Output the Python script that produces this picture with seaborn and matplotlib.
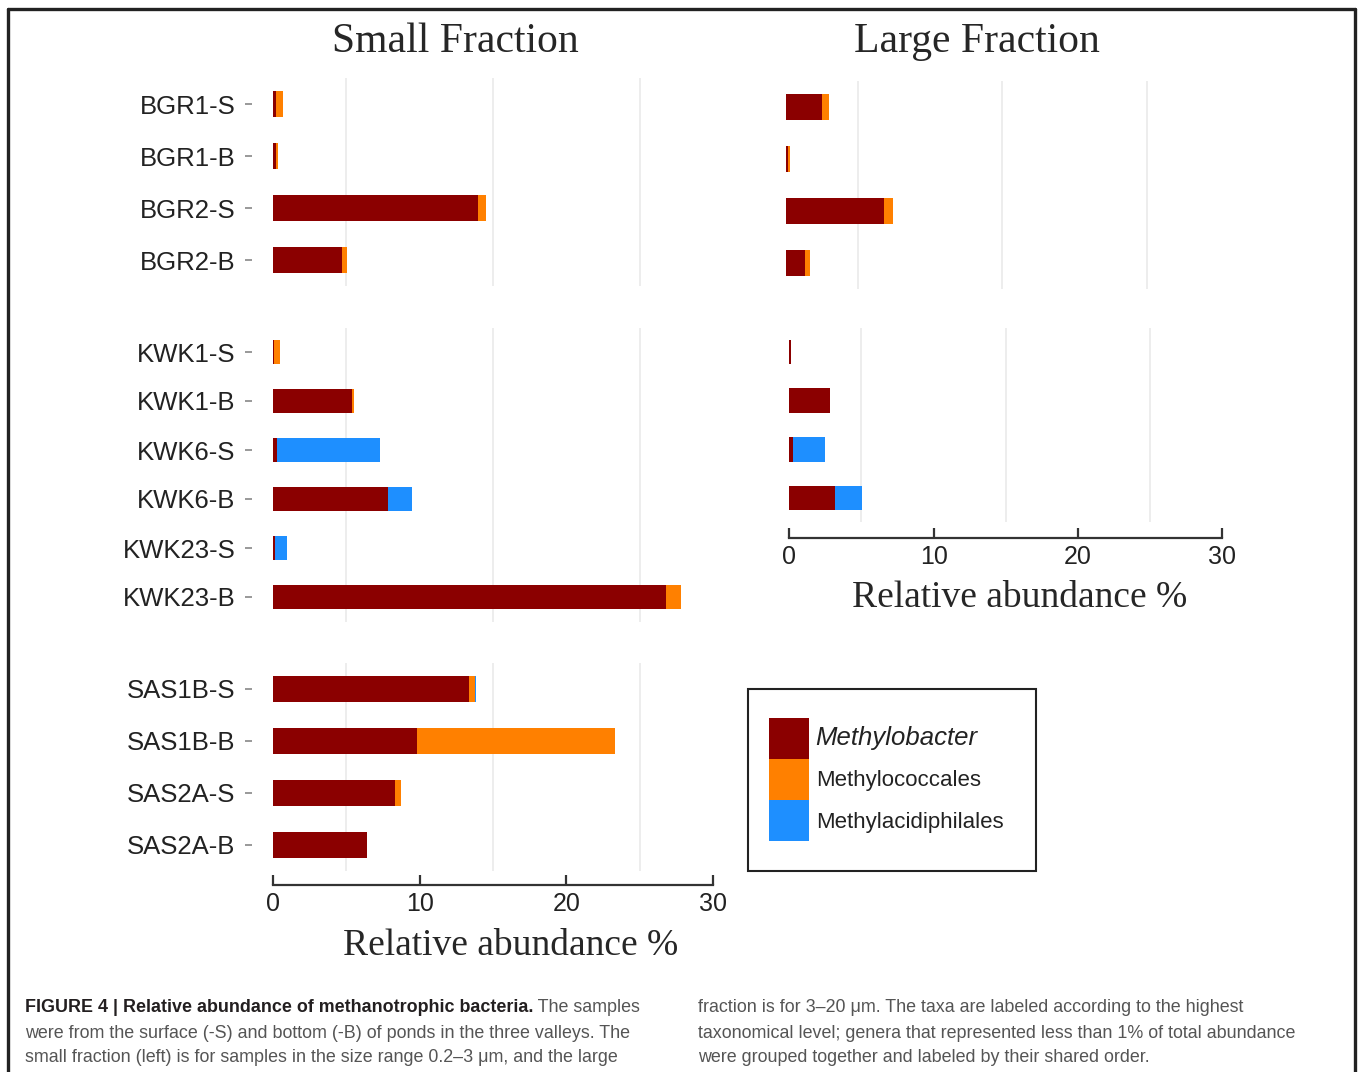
import matplotlib.pyplot as plt
import matplotlib.patches as mpatches
from matplotlib.lines import Line2D
import seaborn as sns

# sample names per valley
bgr_samples = ["BGR1-S", "BGR1-B", "BGR2-S", "BGR2-B"]
kwk_samples = ["KWK1-S", "KWK1-B", "KWK6-S", "KWK6-B", "KWK23-S", "KWK23-B"]
kwk_large_samples = ["KWK1-S", "KWK1-B", "KWK6-S", "KWK6-B"]
sas_samples = ["SAS1B-S", "SAS1B-B", "SAS2A-S", "SAS2A-B"]

taxa = ["Methylobacter", "Methylococcales", "Methylacidiphilales"]
colors = ["#8b0000", "#ff8000", "#1e8fff"]

# small fraction, relative abundance %
small_bgr_mb = [0.23, 0.18, 14.0, 4.7]
small_bgr_mc = [0.45, 0.18, 0.5, 0.35]
small_bgr_ma = [0, 0, 0, 0]

small_kwk_mb = [0.05, 5.4, 0.3, 7.85, 0.15, 26.8]
small_kwk_mc = [0.4, 0.15, 0, 0, 0, 1.0]
small_kwk_ma = [0, 0, 7.0, 1.65, 0.8, 0]

small_sas_mb = [13.35, 9.8, 8.3, 6.4]
small_sas_mc = [0.4, 13.55, 0.4, 0]
small_sas_ma = [0.12, 0, 0, 0]

# large fraction, relative abundance %
large_bgr_mb = [2.5, 0.18, 6.8, 1.35]
large_bgr_mc = [0.5, 0.14, 0.6, 0.3]
large_bgr_ma = [0, 0, 0, 0]

large_kwk_mb = [0.14, 2.84, 0.28, 3.2]
large_kwk_mc = [0, 0, 0, 0]
large_kwk_ma = [0, 0, 2.2, 1.85]

sns.set_style("white")
plt.rcParams['font.family'] = ['Liberation Sans', 'DejaVu Sans']

W, H = 1358, 1072
fig = plt.figure(figsize=(W / 100, H / 100), dpi=100)


def px_axes(x0, x1, y0, y1):
    # axes from pixel box (top-left origin)
    return fig.add_axes([x0 / W, 1 - y1 / H, (x1 - x0) / W, (y1 - y0) / H])


def stacked(ax, samples, mb, mc, ma, labels=True, xaxis=False, xoff=10):
    total = [a + b + c for a, b, c in zip(mb, mc, ma)]
    mid = [a + b for a, b in zip(mb, mc)]
    for vals, col in zip([total, mid, mb], colors[::-1]):
        sns.barplot(x=vals, y=samples, color=col, saturation=1, width=0.5,
                    errorbar=None, linewidth=0, orient="h", ax=ax)
    ax.set_xlim(0, 30)
    ax.set_xticks([0, 10, 20, 30])
    ax.set_xticks([5, 15, 25], minor=True)
    ax.set_axisbelow(True)
    ax.grid(False)
    ax.grid(which="minor", axis="x", color="#ececec", lw=1.3)
    ax.tick_params(which="minor", length=0)
    ax.set_xlabel("")
    ax.set_ylabel("")
    for s in ["top", "right", "left"]:
        ax.spines[s].set_visible(False)
    if labels:
        ax.spines["left"].set_position(("outward", 15))
        ax.tick_params(axis="y", left=True, length=5, width=1.2, color="#888",
                       pad=7, labelsize=18.5, labelcolor="#222")
    else:
        ax.set_yticks([])
    if xaxis:
        ax.spines["bottom"].set_position(("outward", xoff))
        ax.spines["bottom"].set_color("#333")
        ax.spines["bottom"].set_linewidth(1.6)
        ax.tick_params(axis="x", which="major", bottom=True, direction="in",
                       length=7.5, width=1.6, color="#333", pad=5,
                       labelsize=18, labelcolor="#222")
    else:
        ax.spines["bottom"].set_visible(False)
        ax.set_xticklabels([])
        ax.tick_params(axis="x", which="major", length=0)


ax1 = px_axes(273, 713, 78, 286)
stacked(ax1, bgr_samples, small_bgr_mb, small_bgr_mc, small_bgr_ma)
ax2 = px_axes(273, 713, 327.5, 621.5)
stacked(ax2, kwk_samples, small_kwk_mb, small_kwk_mc, small_kwk_ma)
ax3 = px_axes(273, 713, 663, 871)
stacked(ax3, sas_samples, small_sas_mb, small_sas_mc, small_sas_ma, xaxis=True, xoff=10)

ax4 = px_axes(785.7, 1218.7, 81, 289)
stacked(ax4, bgr_samples, large_bgr_mb, large_bgr_mc, large_bgr_ma, labels=False)
ax5 = px_axes(789.3, 1222.3, 327.6, 522.4)
stacked(ax5, kwk_large_samples, large_kwk_mb, large_kwk_mc, large_kwk_ma,
        labels=False, xaxis=True, xoff=11)

serif = ['Liberation Serif', 'DejaVu Serif']
fig.text(455 / W, 1 - 42 / H, "Small Fraction", family=serif, fontsize=30,
         ha="center", va="center")
fig.text(977 / W, 1 - 42 / H, "Large Fraction", family=serif, fontsize=30,
         ha="center", va="center")
fig.text(511 / W, 1 - 946 / H, "Relative abundance %", family=serif, fontsize=27,
         ha="center", va="center")
fig.text(1020 / W, 1 - 598 / H, "Relative abundance %", family=serif, fontsize=27,
         ha="center", va="center")

# legend
handles = [mpatches.Patch(facecolor=c, edgecolor="none") for c in colors]
leg = fig.legend(handles, taxa, loc="upper left", frameon=False,
                 bbox_to_anchor=(769 / W, 1 - 718 / H), fontsize=16,
                 handlelength=1.8, handleheight=2.47, handletextpad=0.3,
                 labelspacing=0, borderpad=0, borderaxespad=0)
leg.get_texts()[0].set_fontstyle("italic")
leg.get_texts()[0].set_fontsize(18.5)
for t in leg.get_texts():
    t.set_color("#222")
fig.add_artist(mpatches.Rectangle((748 / W, 1 - 871 / H), 288 / W, 182 / H,
                                  transform=fig.transFigure, fill=False,
                                  ec="#222", lw=1.5))

# outer frame
fr = dict(color="#222", lw=2.4, transform=fig.transFigure)
fig.add_artist(Line2D([8 / W, 8 / W], [0, 1 - 9 / H], **fr))
fig.add_artist(Line2D([1355 / W, 1355 / W], [0, 1 - 9 / H], **fr))
fig.add_artist(Line2D([8 / W, 1355 / W], [1 - 9 / H, 1 - 9 / H], **fr))

# caption
csize = 12.9
cap = dict(fontsize=csize, color="#555", va="center", ha="left")
t0 = fig.text(25 / W, 1 - 1008 / H,
              "FIGURE 4 | Relative abundance of methanotrophic bacteria.",
              fontsize=csize, color="#231f20", weight="bold", va="center")
fig.add_artist(plt.Annotation(" The samples", xy=(1, 0.5), xycoords=t0,
                              va="center", ha="left", fontsize=csize,
                              color="#555", annotation_clip=False))
left_lines = ["were from the surface (-S) and bottom (-B) of ponds in the three valleys. The",
              "small fraction (left) is for samples in the size range 0.2–3 μm, and the large"]
right_lines = ["fraction is for 3–20 μm. The taxa are labeled according to the highest",
               "taxonomical level; genera that represented less than 1% of total abundance",
               "were grouped together and labeled by their shared order."]
for i, s in enumerate(left_lines):
    fig.text(25 / W, 1 - (1033 + 25 * i) / H, s, **cap)
for i, s in enumerate(right_lines):
    fig.text(698 / W, 1 - (1008 + 25 * i) / H, s, **cap)

fig.savefig("out.png", dpi=100)
